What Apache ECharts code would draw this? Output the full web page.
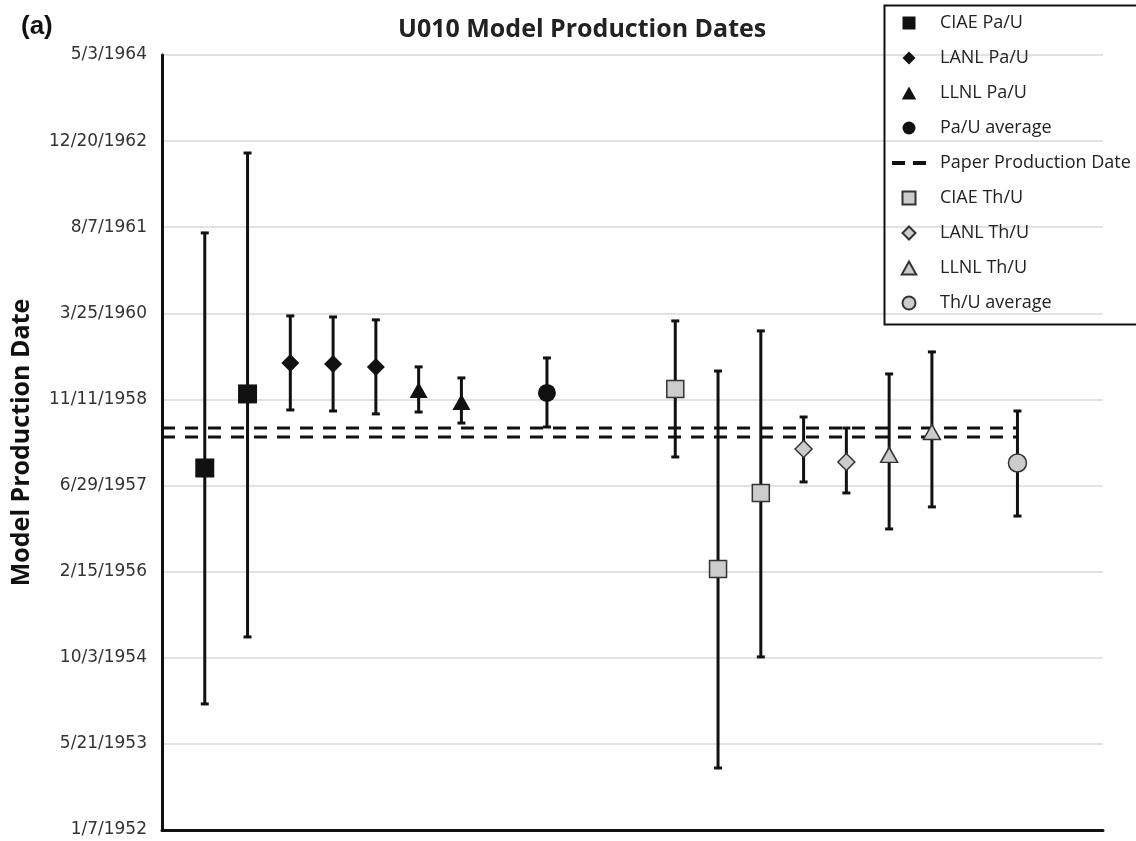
<!DOCTYPE html>
<html>
<head>
<meta charset="utf-8">
<title>U010 Model Production Dates</title>
<script src="https://cdn.jsdelivr.net/npm/echarts@6/dist/echarts.min.js"></script>
<style>
    html, body { margin: 0; padding: 0; background: #fff; }
    #chart { width: 1136px; height: 841px; }
</style>
</head>
<body>
<div id="chart"></div>
<script>
// y axis is an Excel date serial, ticks every 500 days
var yMin = 19000;
var yMax = 23500;
var yStep = 500;
var yTickLabels = ['1/7/1952', '5/21/1953', '10/3/1954', '2/15/1956', '6/29/1957',
    '11/11/1958', '3/25/1960', '8/7/1961', '12/20/1962', '5/3/1964'];

// [position, date, lower, upper]
var ciaePaU = [[1, 21102, 19732, 22467], [2, 21532, 20121, 22931]];
var lanlPaU = [[3, 21712, 21439, 21985], [4, 21706, 21433, 21979], [5, 21689, 21416, 21962]];
var llnlPaU = [[6, 21555, 21427, 21689], [7, 21485, 21363, 21625]];
var paUAverage = [[9, 21538, 21340, 21741]];
var ciaeThU = [[12, 21561, 21166, 21956], [13, 20516, 19360, 21665], [14, 20957, 20005, 21898]];
var lanlThU = [[15, 21212, 21021, 21398], [16, 21137, 20957, 21334]];
var llnlThU = [[17, 21178, 20748, 21648], [18, 21311, 20876, 21776]];
var thUAverage = [[20, 21131, 20823, 21433]];

// paper production date range, two dashed lines
var paperDates = [21334, 21282];
var paperSpan = [0, 20];

var black = '#111111';
var grey = '#cccccc';

var icons = {
    square: 'path://M0,0h10v10h-10z',
    diamond: 'path://M5,0L10,5L5,10L0,5z',
    triangle: 'path://M5,0L10,9L0,9z',
    circle: 'path://M0,5a5,5 0 1,0 10,0a5,5 0 1,0 -10,0z',
    dash: 'path://M0,0h10v3h-10zM16,0h10v3h-10z'
};

function pts(arr) {
    return arr.map(function (d) { return [d[0], d[1]]; });
}

function markerSeries(name, data, symbol, size, filled) {
    return {
        name: name,
        type: 'scatter',
        data: pts(data),
        symbol: symbol,
        symbolSize: size,
        z: 5,
        itemStyle: filled
            ? { color: black, borderColor: black, borderWidth: 0, opacity: 1 }
            : { color: grey, borderColor: '#333', borderWidth: 1.5, opacity: 1 }
    };
}

var allBars = [].concat(ciaePaU, lanlPaU, llnlPaU, paUAverage, ciaeThU, lanlThU, llnlThU, thUAverage);

var chart = echarts.init(document.getElementById('chart'));

var series = [
    {
        name: 'errorBars',
        type: 'custom',
        data: allBars,
        encode: { x: 0, y: [1, 2, 3] },
        z: 3,
        renderItem: function (params, api) {
            var x = api.value(0);
            var lo = api.coord([x, api.value(2)]);
            var hi = api.coord([x, api.value(3)]);
            var cap = 4;
            var st = { stroke: black, lineWidth: 3 };
            return {
                type: 'group',
                children: [
                    { type: 'line', shape: { x1: lo[0], y1: lo[1], x2: hi[0], y2: hi[1] }, style: st },
                    { type: 'line', shape: { x1: lo[0] - cap, y1: lo[1], x2: lo[0] + cap, y2: lo[1] }, style: st },
                    { type: 'line', shape: { x1: hi[0] - cap, y1: hi[1], x2: hi[0] + cap, y2: hi[1] }, style: st }
                ]
            };
        }
    }
];

paperDates.forEach(function (d) {
    series.push({
        name: 'Paper Production Date',
        type: 'line',
        data: paperSpan.map(function (x) { return [x, d]; }),
        symbol: 'none',
        z: 2,
        itemStyle: { color: black },
        lineStyle: { color: black, width: 3, type: [13, 10] }
    });
});

series.push(
    markerSeries('CIAE Pa/U', ciaePaU, 'rect', 19, true),
    markerSeries('LANL Pa/U', lanlPaU, 'diamond', 18, true),
    markerSeries('LLNL Pa/U', llnlPaU, 'triangle', [18, 16], true),
    markerSeries('Pa/U average', paUAverage, 'circle', 18, true),
    markerSeries('CIAE Th/U', ciaeThU, 'rect', 17, false),
    markerSeries('LANL Th/U', lanlThU, 'diamond', 17, false),
    markerSeries('LLNL Th/U', llnlThU, 'triangle', [17, 15], false),
    markerSeries('Th/U average', thUAverage, 'circle', 18, false)
);

chart.setOption({
    animation: false,
    backgroundColor: '#fff',
    title: [
        {
            text: 'U010 Model Production Dates',
            left: 393, top: 12,
            textStyle: { fontFamily: 'Open Sans', fontWeight: 'bold', fontSize: 25, color: '#222' }
        },
        {
            text: '(a)',
            left: 16, top: 9,
            textStyle: { fontFamily: 'Liberation Sans', fontWeight: 'bold', fontSize: 26, color: '#111' }
        }
    ],
    graphic: [{
        type: 'rect',
        left: 882, top: 3,
        shape: { width: 262, height: 319 },
        style: { fill: 'none', stroke: '#111', lineWidth: 2 },
        z: 10
    }],
    legend: {
        orient: 'vertical',
        left: 892, top: 13,
        padding: 0,
        itemWidth: 34, itemHeight: 13,
        itemGap: 15,
        symbolKeepAspect: true,
        selectedMode: false,
        textStyle: { fontFamily: 'Open Sans', fontSize: 18, color: '#222', lineHeight: 20, padding: [0, 0, 0, 9] },
        data: [
            { name: 'CIAE Pa/U', icon: icons.square },
            { name: 'LANL Pa/U', icon: icons.diamond },
            { name: 'LLNL Pa/U', icon: icons.triangle },
            { name: 'Pa/U average', icon: icons.circle },
            { name: 'Paper Production Date', icon: icons.dash },
            { name: 'CIAE Th/U', icon: icons.square },
            { name: 'LANL Th/U', icon: icons.diamond },
            { name: 'LLNL Th/U', icon: icons.triangle },
            { name: 'Th/U average', icon: icons.circle }
        ]
    },
    grid: { left: 162, right: 33, top: 55, bottom: 11, containLabel: false },
    xAxis: {
        type: 'value',
        min: 0, max: 22,
        axisLine: { show: true, lineStyle: { color: black, width: 3 } },
        axisTick: { show: false },
        axisLabel: { show: false },
        splitLine: { show: false }
    },
    yAxis: {
        type: 'value',
        min: yMin, max: yMax, interval: yStep,
        name: 'Model Production Date',
        nameLocation: 'middle',
        nameRotate: 90,
        nameGap: 128,
        nameTextStyle: { fontFamily: 'Open Sans', fontWeight: 'bold', fontSize: 25, color: '#111' },
        axisLine: { show: true, lineStyle: { color: black, width: 3 } },
        axisTick: { show: false },
        axisLabel: {
            margin: 15,
            fontFamily: 'DejaVu Sans', fontSize: 17, color: '#333',
            formatter: function (v) { return yTickLabels[Math.round((v - yMin) / yStep)]; }
        },
        splitLine: { show: true, lineStyle: { color: '#d9d9d9', width: 1.5 } }
    },
    series: series
});
</script>
</body>
</html>
